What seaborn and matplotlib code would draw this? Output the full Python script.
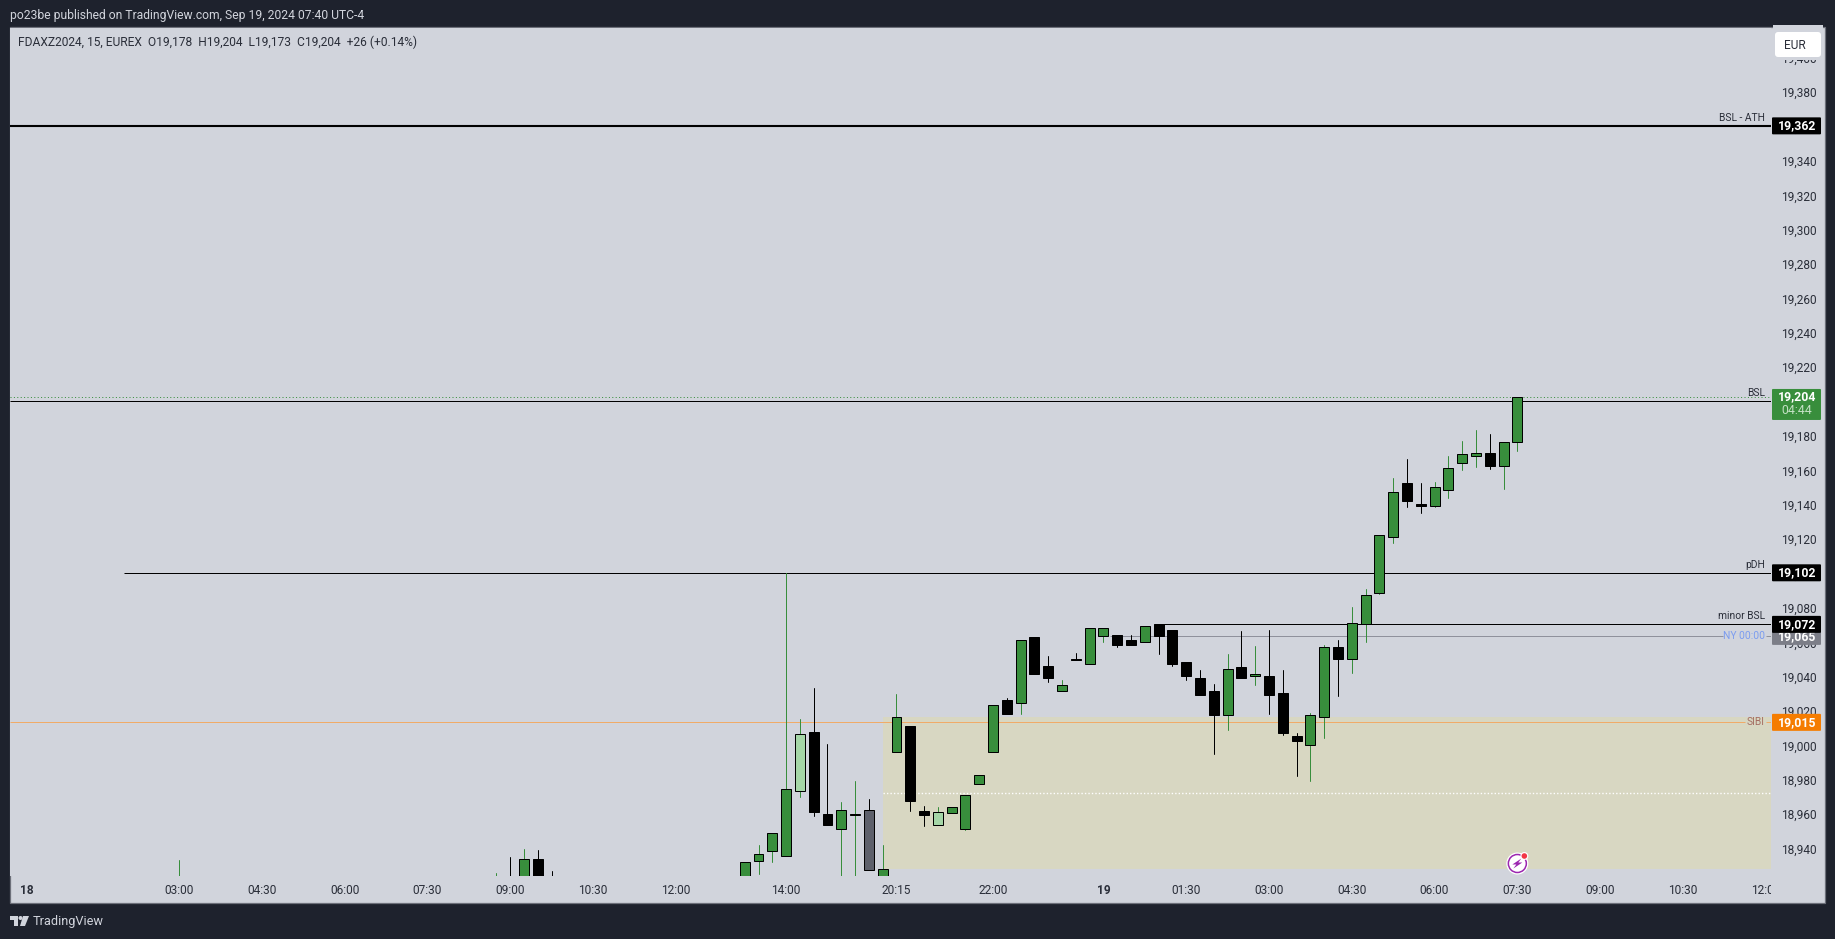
import matplotlib
matplotlib.use("Agg")
import matplotlib.pyplot as plt
import numpy as np
import pandas as pd
import seaborn as sns
from matplotlib.patches import Rectangle, FancyBboxPatch, Circle, Polygon
from matplotlib.ticker import FixedLocator, FuncFormatter
from matplotlib.transforms import IdentityTransform, Bbox, ScaledTranslation

# ---------------- data ----------------
bars = [-44, -21, -20, -19, -18, -17, -3, -2, -1, 0, 1, 2, 3, 4, 5, 6, 7, 8, 9, 10, 11, 12, 13, 14, 15, 16, 17, 18,
        19, 20, 21, 22, 23, 24, 25, 26, 27, 28, 29, 30, 31, 32, 33, 34, 35, 36, 37, 38, 39, 40, 41, 42, 43, 44,
        45, 46, 47, 48, 49, 50, 51, 52, 53]
opens = [18920, 18920, 18924, 18920, 18935.5, 18924, 18922, 18934.5, 18940.3, 18937.4, 18975.2, 19009.2, 18961.6,
         18953.1, 18961.3, 18964.3, 18920, 18997.8, 19012.7, 18963.4, 18955.4, 18962.4, 18953.1, 18979.2, 18997.8,
         19028.2, 19026.3, 19064.4, 19047.6, 19033.2, 19051.9, 19049, 19065.2, 19066, 19063.1, 19061.7, 19072.4,
         19068.9, 19050.3, 19041, 19033.5, 19019.3, 19047.4, 19042, 19042.2, 19032.3, 19007.3, 19001.9, 19018.2,
         19059, 19052, 19072.4, 19090.4, 19122.9, 19154.3, 19142.1, 19140.7, 19150.2, 19165.9, 19169.8, 19171.7,
         19164, 19178]
closes = [18924, 18924, 18920, 18935.5, 18920, 18920, 18933.5, 18938.2, 18950.4, 18976.5, 19008.5, 18963, 18955.4,
          18964.3, 18961.5, 18929.3, 18929.5, 19018.3, 18969.2, 18961, 18962.6, 18966, 18972.5, 18984.1, 19025.3,
          19019.7, 19063.1, 19043, 19040.6, 19036.9, 19051.2, 19070.1, 19070.1, 19060, 19060, 19071.2, 19065.2,
          19049, 19042, 19031, 19019.3, 19046.3, 19040.8, 19043.3, 19031, 19008.9, 19004.2, 19019.5, 19059,
          19051.9, 19073, 19089.2, 19124.1, 19149, 19143.6, 19140.7, 19151.9, 19163, 19171.1, 19171.7, 19164,
          19178.1, 19204]
highs = [18934.9, 18927.3, 18936.6, 18941.5, 18940.9, 18928.3, 18933.5, 18943.6, 18950.4, 19102, 19017.2, 19035.2,
         19002.3, 18968.4, 18980.8, 18970.3, 18943.6, 19031.3, 19012.7, 18966.3, 18965.7, 18966, 18972.5, 18984.1,
         19025.3, 19029.4, 19063.1, 19064.4, 19053.4, 19039.4, 19055.1, 19070.1, 19070.1, 19066, 19066, 19071.2,
         19072.4, 19068.9, 19050.3, 19045.3, 19037.2, 19055, 19068.3, 19059.2, 19068.9, 19045.3, 19009, 19020.3,
         19060.2, 19063.1, 19082.3, 19092.3, 19124.1, 19157.4, 19168.4, 19154.5, 19155, 19170.2, 19178.9, 19185.3,
         19183, 19178.1, 19204]
lows = [18920, 18920, 18920, 18920, 18920, 18920, 18922, 18926.8, 18933.9, 18937, 18971.7, 18960.6, 18955.4,
        18915, 18915, 18929.3, 18920, 18997.8, 18963.4, 18954.8, 18955.4, 18962.4, 18952.3, 18979.2, 18997.8,
        19019.7, 19019.7, 19043, 19038.3, 19033.2, 19051.2, 19049, 19061.7, 19058.8, 19060, 19061.7, 19054.8,
        19047.8, 19039.7, 19031, 18996.7, 19010.6, 19040.8, 19036.8, 19019.9, 19007.7, 18983.9, 18981, 19006,
        19030.4, 19043.7, 19061.7, 19089.6, 19119.2, 19140, 19136.7, 19140.2, 19145.4, 19161.6, 19163.4, 19162.2,
        19150.6, 19173]
light_bars = [1, 11]
grey_bars = [6]

price_ticks = list(range(18940, 19401, 20))
time_positions = [-55, -44, -38, -32, -26, -20, -14, -8, 0, 8, 15, 23, 29, 35, 41, 47, 53, 59, 65, 71]
time_labels = ["18", "03:00", "04:30", "06:00", "07:30", "09:00", "10:30", "12:00", "14:00", "20:15", "22:00",
               "19", "01:30", "03:00", "04:30", "06:00", "07:30", "09:00", "10:30", "12:00"]

level_names = ["BSL - ATH", "BSL", "pDH", "minor BSL", "NY 00:00", "SIBI"]
level_prices = [19362, 19202, 19102, 19072, 19065, 19015]
last_close = 19204
sibi_top, sibi_bottom, sibi_start = 19018.1, 18929.6, 7.05

header_text = "po23be published on TradingView.com, Sep 19, 2024 07:40 UTC-4"
legend_text = "FDAXZ2024, 15, EUREX  O19,178  H19,204  L19,173  C19,204  +26 (+0.14%)"

# ---------------- style ----------------
DARK = "#1e222d"
PANE = "#d1d4dc"
GREEN = "#388e3c"
LIGHT = "#a5d6a7"
GREY = "#5d606b"
BLACK = "#000000"
SIBI_FILL = "#d8d7c2"
ORANGE = "#f0ab68"
FONT = "Roboto"
W, H = 1835, 939
THIN = 0.72

sns.set_theme(style="white")
plt.rcParams["font.family"] = [FONT, "DejaVu Sans"]

fig = plt.figure(figsize=(W / 100, H / 100), dpi=100, facecolor=DARK)
px = IdentityTransform()

fig.add_artist(Rectangle((9.5, H - 903), 1815, 876, transform=px, facecolor=PANE, edgecolor="#6d707a",
                         linewidth=0.9, zorder=-2))

LEFT, RIGHT, TOP, BOTTOM = 10, 1771, 28, 876
ax = fig.add_axes([LEFT / W, 1 - BOTTOM / H, (RIGHT - LEFT) / W, (BOTTOM - TOP) / H], facecolor=PANE)
sns.despine(ax=ax, left=True, bottom=True, right=True, top=True)

# ---------------- candles ----------------
df = pd.DataFrame({"bar": bars, "open": opens, "high": highs, "low": lows, "close": closes})
df["up"] = df["close"] >= df["open"]
df["wick"] = np.where(df["bar"].isin(grey_bars), "dn", np.where(df["up"], "up", "dn"))
df["fill"] = np.where(df["bar"].isin(light_bars), LIGHT,
                      np.where(df["bar"].isin(grey_bars), GREY, np.where(df["up"], GREEN, BLACK)))

wicks = pd.concat([df[["bar", "wick"]].assign(price=df["low"]), df[["bar", "wick"]].assign(price=df["high"])])
sns.lineplot(data=wicks, x="bar", y="price", units="bar", estimator=None, hue="wick", sort=False,
             palette={"up": GREEN, "dn": BLACK}, linewidth=THIN, legend=False, ax=ax, zorder=4)
ax.bar(df["bar"], (df["close"] - df["open"]).abs(), bottom=df[["open", "close"]].min(axis=1), width=0.72,
       color=df["fill"], edgecolor=BLACK, linewidth=THIN, zorder=5)

ax.set_xlim((LEFT - 786.1) / 13.797, (RIGHT - 786.1) / 13.797)
ax.set_ylim(19102 - (BOTTOM - 572.8) / 1.719, 19102 + (572.8 - TOP) / 1.719)
ax.set_xlabel("")
ax.set_ylabel("")

# ---------------- levels and zone ----------------
xl, xr = ax.get_xlim()
ax.add_patch(Rectangle((sibi_start, sibi_bottom), xr - sibi_start, sibi_top - sibi_bottom,
                       facecolor=SIBI_FILL, edgecolor="none", zorder=1))
ax.hlines((sibi_top + sibi_bottom) / 2, sibi_start, xr, color="white", linewidth=1, linestyle=(0, (1, 1.5)), zorder=2)

ax.hlines(level_prices[0], xl, xr, color=BLACK, linewidth=1.5, zorder=3)
ax.hlines(level_prices[1], xl, xr, color=BLACK, linewidth=THIN, zorder=3)
ax.hlines(last_close, xl, xr, color=GREEN, linewidth=THIN, linestyle=(0, (1, 2.4)), zorder=3)
ax.hlines(level_prices[2], -48, xr, color=BLACK, linewidth=THIN, zorder=3)
ax.hlines(level_prices[3], 27, xr, color=BLACK, linewidth=THIN, zorder=3)
for a, b in [(23.5, 67.9), (71.0, xr)]:
    ax.hlines(level_prices[4], a, b, color="#8f919c", linewidth=THIN, zorder=2)
for a, b in [(xl, 69.5), (71.0, xr)]:
    ax.hlines(level_prices[5], a, b, color=ORANGE, linewidth=THIN, zorder=3)

# ---------------- axes ticks ----------------
ax.yaxis.tick_right()
ax.yaxis.set_major_locator(FixedLocator(price_ticks))
ax.yaxis.set_major_formatter(FuncFormatter(lambda v, _: f"{v:,.0f}"))
ax.tick_params(axis="y", length=0, pad=7, labelsize=8.6, labelcolor="#2a2e39")
ax.set_xticks(time_positions)
ax.set_xticklabels(time_labels)
ax.tick_params(axis="x", length=0, pad=5.5, labelsize=8.6, labelcolor="#2a2e39")
clip = Bbox([[0, 0], [RIGHT, H]])
for tl, t in zip(ax.get_xticklabels(), time_labels):
    tl.set_clip_on(True)
    tl.set_clip_box(clip)
    if t in ("18", "19"):
        tl.set_fontweight("bold")
lift = ScaledTranslation(0, 1.2 / 100, fig.dpi_scale_trans)
for tick in ax.yaxis.get_major_ticks():
    tick.label2.set_va("center")
    tick.label2.set_transform(tick.label2.get_transform() + lift)


def yp(price):
    return ax.transData.transform((0, price))[1]


def bar_x(i):
    return ax.transData.transform((i, 0))[0]


# ---------------- level labels ----------------
label_colors = ["#2a2e39", "#2a2e39", "#2a2e39", "#2a2e39", "#7b9cf0", "#a56d62"]
for name, price, col in zip(level_names, level_prices, label_colors):
    off = 8 if name not in ("NY 00:00", "SIBI") else 0
    fig.text(1765, yp(price) + off, name, transform=px, ha="right", va="center", fontsize=7.4, color=col, zorder=6)


# ---------------- price badges ----------------
def badge(price, color, text, height=17, zorder=3):
    yc = yp(price)
    fig.add_artist(FancyBboxPatch((1773, yc - height / 2 + 1), 47, height - 2, boxstyle="round,pad=1,rounding_size=1",
                                  transform=px, facecolor=color, edgecolor="none", zorder=zorder))
    fig.text(1797, yc, text, transform=px, ha="center", va="center", fontsize=8.8, fontweight="bold",
             color="white", zorder=zorder + 0.1)


badge(level_prices[4], "#7c7e88", f"{level_prices[4]:,}", zorder=3)
badge(level_prices[0], BLACK, f"{level_prices[0]:,}", zorder=4)
badge(level_prices[2], BLACK, f"{level_prices[2]:,}", zorder=4)
badge(level_prices[3], BLACK, f"{level_prices[3]:,}", zorder=4)
badge(level_prices[5], "#f57c00", f"{level_prices[5]:,}", zorder=4)

top = yp(last_close) + 8
fig.add_artist(FancyBboxPatch((1773, top - 29.5), 47, 29, boxstyle="round,pad=1,rounding_size=1", transform=px,
                              facecolor=GREEN, edgecolor="none", zorder=4))
fig.text(1797, top - 7.5, f"{last_close:,}", transform=px, ha="center", va="center", fontsize=8.8,
         fontweight="bold", color="white", zorder=5)
fig.text(1797, top - 21.5, "04:44", transform=px, ha="center", va="center", fontsize=8.8, color="#c3e0c4", zorder=5)

# ---------------- currency button ----------------
fig.add_artist(Rectangle((1773, H - 60), 50, 35, transform=px, facecolor=PANE, edgecolor="none", zorder=2))
fig.add_artist(FancyBboxPatch((1777, H - 55), 42, 21, boxstyle="round,pad=2,rounding_size=3", transform=px,
                              facecolor="white", edgecolor="none", zorder=3))
fig.text(1795, H - 45.5, "EUR", transform=px, ha="center", va="center", fontsize=8.6, color="#2a2e39", zorder=4)

# ---------------- header / legend / footer ----------------
fig.text(10, H - 15, header_text, transform=px, ha="left", va="center", fontsize=8.72, color="#d1d4dc")
fig.text(18, H - 42.5, legend_text, transform=px, ha="left", va="center", fontsize=8.63, color="#2a2e39", zorder=5)

fig.text(33, H - 921, "TradingView", transform=px, ha="left", va="center", fontsize=9.2, color="#d1d4dc")
logo = "#d1d4dc"
y0 = H - 921
fig.add_artist(Polygon([(10, y0 + 5), (18, y0 + 5), (18, y0 - 5), (14, y0 - 5), (14, y0 + 1), (10, y0 + 1)],
                       transform=px, facecolor=logo, edgecolor="none"))
fig.add_artist(Circle((20.5, y0 + 3), 2, transform=px, facecolor=logo, edgecolor="none"))
fig.add_artist(Polygon([(23, y0 + 5), (29, y0 + 5), (25, y0 - 5), (20, y0 - 5)], transform=px, facecolor=logo,
                       edgecolor="none"))

# ---------------- notification icon ----------------
ix, iy = bar_x(53), H - 863.5
fig.add_artist(Circle((ix, iy), 11, transform=px, facecolor="white", edgecolor="none", zorder=6))
fig.add_artist(Circle((ix, iy), 9, transform=px, facecolor="white", edgecolor="#9c27b0", linewidth=1.1, zorder=6.1))
fig.add_artist(Polygon([(ix + 4, iy + 5), (ix - 5, iy - 1), (ix - 1, iy - 1), (ix - 4, iy - 5), (ix + 5, iy + 1),
                        (ix + 1, iy + 1)], transform=px, facecolor="#9c27b0", edgecolor="none", zorder=6.2))
fig.add_artist(Circle((ix + 7, iy + 7.5), 4, transform=px, facecolor="white", edgecolor="none", zorder=6.3))
fig.add_artist(Circle((ix + 7, iy + 7.5), 2.8, transform=px, facecolor="#f23645", edgecolor="none", zorder=6.4))

fig.savefig("out.png", dpi=100, facecolor=DARK)
